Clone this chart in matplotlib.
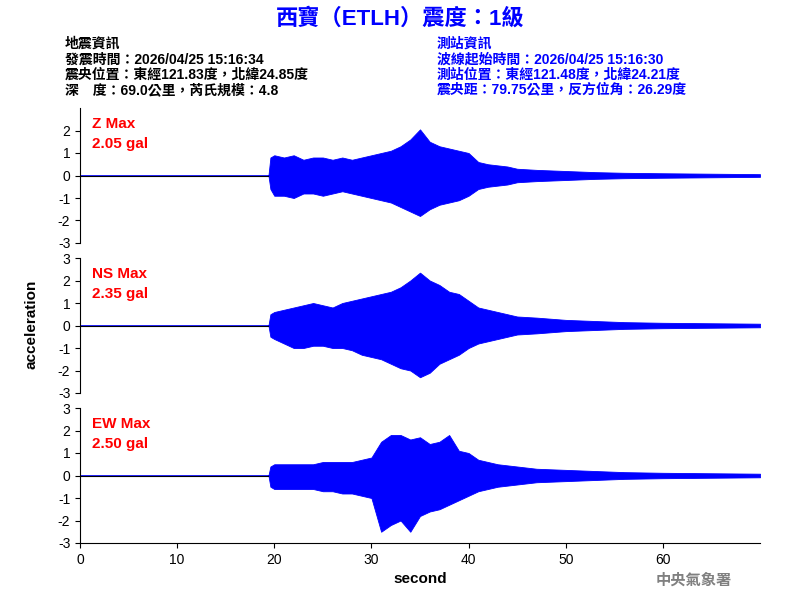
import matplotlib
matplotlib.use("Agg")
import matplotlib.pyplot as plt

plt.rcParams['font.family'] = ['Liberation Sans', 'Noto Sans CJK TC', 'DejaVu Sans']
plt.rcParams['axes.unicode_minus'] = False

# envelope of each trace (seconds, upper, lower)
t = [0, 19.4, 19.6, 20, 21, 22, 23, 24, 25, 26, 27, 28, 29, 30, 31, 32, 33, 34, 35, 36,
     37, 38, 39, 40, 41, 42, 43, 44, 45, 47, 50, 53, 56, 60, 65, 70]
z_up = [0, 0, 0.8, 0.9, 0.8, 0.9, 0.7, 0.8, 0.8, 0.7, 0.8, 0.7, 0.8, 0.9, 1.0, 1.1, 1.3, 1.6, 2.05, 1.5,
        1.3, 1.2, 1.1, 1.0, 0.6, 0.5, 0.45, 0.4, 0.3, 0.25, 0.2, 0.15, 0.12, 0.1, 0.08, 0.06]
z_lo = [0, 0, -0.6, -0.9, -0.9, -1.0, -0.8, -0.8, -0.9, -0.8, -0.7, -0.8, -0.9, -1.0, -1.1, -1.2, -1.4, -1.6, -1.8, -1.5,
        -1.3, -1.2, -1.1, -0.9, -0.6, -0.5, -0.45, -0.4, -0.3, -0.25, -0.2, -0.15, -0.12, -0.1, -0.08, -0.06]
ns_up = [0, 0, 0.5, 0.6, 0.7, 0.8, 0.9, 1.0, 0.9, 0.8, 1.0, 1.1, 1.2, 1.3, 1.4, 1.5, 1.7, 2.0, 2.35, 2.0,
         1.8, 1.5, 1.4, 1.1, 0.8, 0.7, 0.6, 0.5, 0.4, 0.35, 0.25, 0.2, 0.15, 0.12, 0.1, 0.08]
ns_lo = [0, 0, -0.5, -0.6, -0.8, -1.0, -1.0, -0.9, -0.9, -1.0, -1.0, -1.1, -1.3, -1.4, -1.5, -1.7, -1.9, -2.0, -2.3, -2.1,
         -1.7, -1.5, -1.3, -1.0, -0.8, -0.7, -0.6, -0.5, -0.4, -0.35, -0.25, -0.2, -0.15, -0.12, -0.1, -0.08]
ew_up = [0, 0, 0.4, 0.5, 0.5, 0.5, 0.5, 0.5, 0.6, 0.6, 0.6, 0.6, 0.7, 0.8, 1.5, 1.8, 1.8, 1.6, 1.7, 1.4,
         1.5, 1.8, 1.1, 1.0, 0.7, 0.6, 0.5, 0.45, 0.4, 0.3, 0.25, 0.2, 0.15, 0.12, 0.1, 0.08]
ew_lo = [0, 0, -0.5, -0.6, -0.6, -0.6, -0.6, -0.6, -0.7, -0.7, -0.8, -0.8, -0.9, -1.0, -2.5, -2.2, -2.0, -2.5, -1.8, -1.6,
         -1.5, -1.3, -1.1, -0.9, -0.7, -0.6, -0.5, -0.45, -0.4, -0.3, -0.25, -0.2, -0.15, -0.12, -0.1, -0.08]

labels = ["Z Max\n2.05 gal", "NS Max\n2.35 gal", "EW Max\n2.50 gal"]
traces = [(z_up, z_lo), (ns_up, ns_lo), (ew_up, ew_lo)]
bottoms = [0.595, 0.345, 0.095]

fig = plt.figure(figsize=(8, 6), dpi=100)
for i, ((up, lo), lab, b) in enumerate(zip(traces, labels, bottoms)):
    ax = fig.add_axes([0.1, b, 0.85, 0.225])
    ax.axhline(0, color='black', lw=0.8, xmax=19.5 / 70)
    ax.fill_between(t, lo, up, color='blue', lw=0.6, edgecolor='blue')
    ax.plot([19.5, 70], [0, 0], color='blue', lw=0.8)
    ax.set_xlim(0, 70)
    ax.set_ylim(-3, 3)
    ax.set_yticks([-3, -2, -1, 0, 1, 2, 3] if i > 0 else [-3, -2, -1, 0, 1, 2])
    ax.tick_params(labelsize=10)
    for s in ['top', 'right']:
        ax.spines[s].set_visible(False)
    if i < 2:
        ax.spines['bottom'].set_visible(False)
        ax.set_xticks([])
    else:
        ax.set_xticks([0, 10, 20, 30, 40, 50, 60])
        ax.set_xlabel("second", fontsize=11, fontweight='bold')
    ax.text(0.018, 0.93, lab, transform=ax.transAxes, color='red', fontsize=11,
            fontweight='bold', va='top', linespacing=1.5)

fig.text(0.04, 0.46, "acceleration", rotation=90, fontsize=11, fontweight='bold', ha='center', va='center')

fig.text(0.5, 0.968, "西寶（ETLH）震度：1級", color='blue', fontsize=16, fontweight='bold', ha='center', va='center')
left = ["地震資訊", "發震時間：2026/04/25 15:16:34", "震央位置：東經121.83度，北緯24.85度", "深　度：69.0公里，芮氏規模：4.8"]
right = ["測站資訊", "波線起始時間：2026/04/25 15:16:30", "測站位置：東經121.48度，北緯24.21度", "震央距：79.75公里，反方位角：26.29度"]
for k, (a, c) in enumerate(zip(left, right)):
    y = 0.927 - k * 0.026
    fig.text(0.081, y, a, color='black', fontsize=10, fontweight='bold', va='center')
    fig.text(0.546, y, c, color='blue', fontsize=10, fontweight='bold', va='center')

fig.text(0.82, 0.032, "中央氣象署", color='gray', fontsize=11, fontweight='bold', va='center')

fig.savefig("out.png")
